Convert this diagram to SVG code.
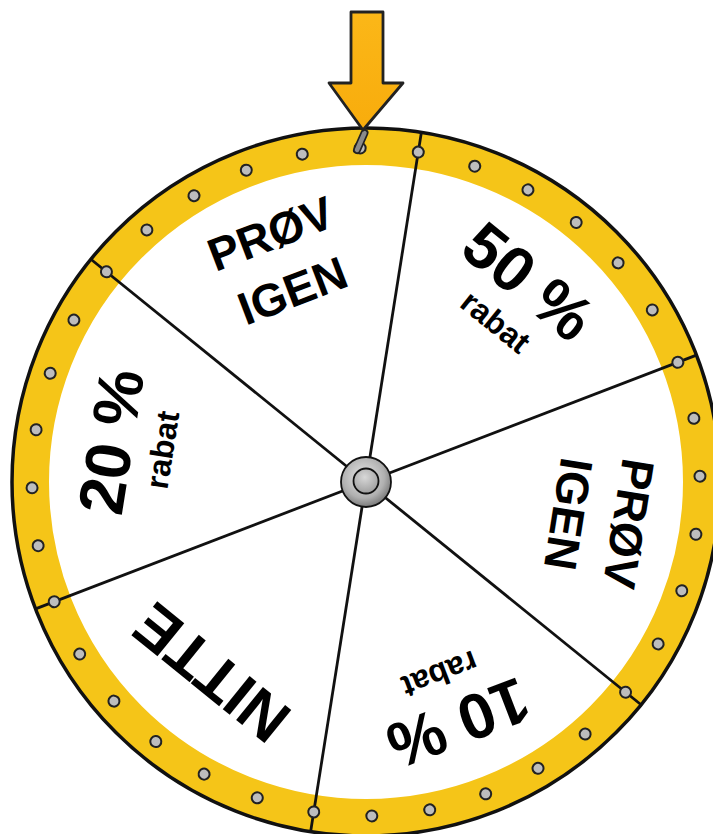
<svg xmlns="http://www.w3.org/2000/svg" width="713" height="834" viewBox="0 0 713 834">
<defs>
<radialGradient id="hubG" cx="0.45" cy="0.4" r="0.6">
<stop offset="0" stop-color="#e8e8e8"/><stop offset="0.7" stop-color="#b0b0b0"/><stop offset="1" stop-color="#7a7a7a"/>
</radialGradient>
<radialGradient id="hubI" cx="0.45" cy="0.35" r="0.7">
<stop offset="0" stop-color="#d8d8d8"/><stop offset="1" stop-color="#9a9a9a"/>
</radialGradient>
<linearGradient id="arrG" x1="0" y1="0" x2="0" y2="1">
<stop offset="0" stop-color="#FBB718"/><stop offset="1" stop-color="#F8AC0C"/>
</linearGradient>
<circle id="dot" r="5.5" fill="#bdbdbd" stroke="#222" stroke-width="2"/>
</defs>
<style>
.big{font-family:"Liberation Sans",Arial,sans-serif;font-weight:bold;fill:#000;text-anchor:middle}
.div{stroke:#111;stroke-width:2.8;fill:none}
</style>
<rect width="713" height="834" fill="#fff"/>
<g id="wheel">
<circle cx="366" cy="482" r="317" fill="#fff"/>
<circle cx="366" cy="482" r="335.5" fill="none" stroke="#F5C518" stroke-width="37"/>
<circle cx="366" cy="482" r="354" fill="none" stroke="#111" stroke-width="3.5"/>
</g>
<g id="connectors" transform="translate(366 482)">
<line class="div" x1="0" y1="0" x2="354" y2="0" transform="rotate(-81)"/>
<line class="div" x1="0" y1="0" x2="354" y2="0" transform="rotate(-21)"/>
<line class="div" x1="0" y1="0" x2="354" y2="0" transform="rotate(39)"/>
<line class="div" x1="0" y1="0" x2="354" y2="0" transform="rotate(99)"/>
<line class="div" x1="0" y1="0" x2="354" y2="0" transform="rotate(159)"/>
<line class="div" x1="0" y1="0" x2="354" y2="0" transform="rotate(219)"/>
</g>
<g id="dots" transform="translate(366 482)">
<use href="#dot" transform="rotate(-81) translate(334 0)"/>
<use href="#dot" transform="rotate(-71) translate(334 0)"/>
<use href="#dot" transform="rotate(-61) translate(334 0)"/>
<use href="#dot" transform="rotate(-51) translate(334 0)"/>
<use href="#dot" transform="rotate(-41) translate(334 0)"/>
<use href="#dot" transform="rotate(-31) translate(334 0)"/>
<use href="#dot" transform="rotate(-21) translate(334 0)"/>
<use href="#dot" transform="rotate(-11) translate(334 0)"/>
<use href="#dot" transform="rotate(-1) translate(334 0)"/>
<use href="#dot" transform="rotate(9) translate(334 0)"/>
<use href="#dot" transform="rotate(19) translate(334 0)"/>
<use href="#dot" transform="rotate(29) translate(334 0)"/>
<use href="#dot" transform="rotate(39) translate(334 0)"/>
<use href="#dot" transform="rotate(49) translate(334 0)"/>
<use href="#dot" transform="rotate(59) translate(334 0)"/>
<use href="#dot" transform="rotate(69) translate(334 0)"/>
<use href="#dot" transform="rotate(79) translate(334 0)"/>
<use href="#dot" transform="rotate(89) translate(334 0)"/>
<use href="#dot" transform="rotate(99) translate(334 0)"/>
<use href="#dot" transform="rotate(109) translate(334 0)"/>
<use href="#dot" transform="rotate(119) translate(334 0)"/>
<use href="#dot" transform="rotate(129) translate(334 0)"/>
<use href="#dot" transform="rotate(139) translate(334 0)"/>
<use href="#dot" transform="rotate(149) translate(334 0)"/>
<use href="#dot" transform="rotate(159) translate(334 0)"/>
<use href="#dot" transform="rotate(169) translate(334 0)"/>
<use href="#dot" transform="rotate(179) translate(334 0)"/>
<use href="#dot" transform="rotate(189) translate(334 0)"/>
<use href="#dot" transform="rotate(199) translate(334 0)"/>
<use href="#dot" transform="rotate(209) translate(334 0)"/>
<use href="#dot" transform="rotate(219) translate(334 0)"/>
<use href="#dot" transform="rotate(229) translate(334 0)"/>
<use href="#dot" transform="rotate(239) translate(334 0)"/>
<use href="#dot" transform="rotate(249) translate(334 0)"/>
<use href="#dot" transform="rotate(259) translate(334 0)"/>
<use href="#dot" transform="rotate(269) translate(334 0)"/>
</g>
<g id="seg-top" transform="translate(366 482) rotate(-21)">
<text class="big" x="0" y="-250" font-size="46">PRØV</text>
<text class="big" x="0" y="-189" font-size="46">IGEN</text>
</g>
<g id="seg-50" transform="translate(366 482) rotate(39)">
<text class="big" x="0" y="-236" font-size="64">50 %</text>
<text class="big" x="0" y="-195" font-size="32">rabat</text>
</g>
<g id="seg-right" transform="translate(366 482) rotate(99)">
<text class="big" x="0" y="-250" font-size="46">PRØV</text>
<text class="big" x="0" y="-189" font-size="46">IGEN</text>
</g>
<g id="seg-10" transform="translate(366 482) rotate(159)">
<text class="big" x="0" y="-236" font-size="64">10 %</text>
<text class="big" x="0" y="-195" font-size="32">rabat</text>
</g>
<g id="seg-nitte" transform="translate(366 482) rotate(219)">
<text class="big" x="0" y="-224" font-size="62">NITTE</text>
</g>
<g id="seg-20" transform="translate(366 482) rotate(279)">
<text class="big" x="0" y="-236" font-size="64">20 %</text>
<text class="big" x="0" y="-195" font-size="32">rabat</text>
</g>
<g id="hub">
<circle cx="366" cy="482" r="25" fill="url(#hubG)" stroke="#111" stroke-width="1.8"/>
<circle cx="366" cy="481" r="12.5" fill="url(#hubI)" stroke="#111" stroke-width="1.8"/>
</g>
<g id="peg">
<line x1="357" y1="150" x2="364.5" y2="133" stroke="#222" stroke-width="8" stroke-linecap="round"/>
<line x1="357" y1="150" x2="364.5" y2="133" stroke="#8a8a8a" stroke-width="4.5" stroke-linecap="round"/>
</g>
<g id="pointer">
<polygon points="351,12 383,12 383,83 403,83 363,130 329,83 351,83" fill="url(#arrG)" stroke="#222" stroke-width="2.8" stroke-linejoin="round"/>
</g>
</svg>
